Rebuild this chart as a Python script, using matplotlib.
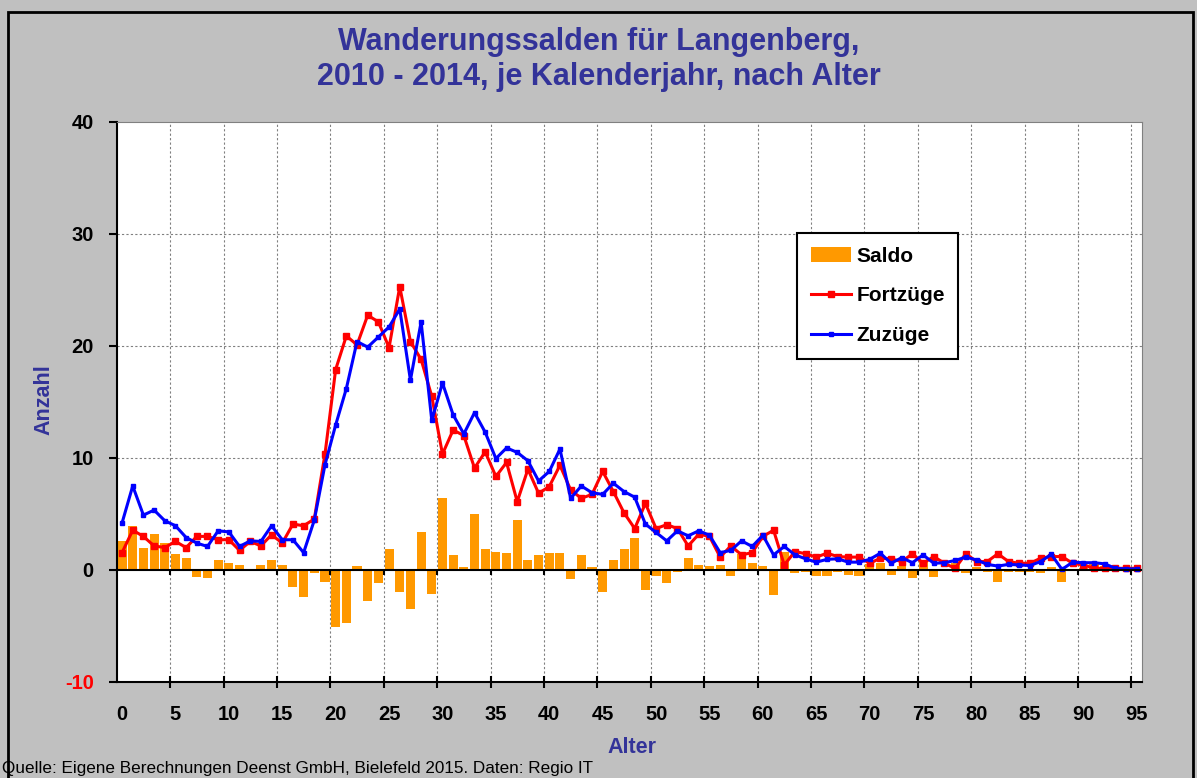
import numpy as np
import matplotlib.pyplot as plt
from matplotlib.patches import Rectangle

plt.rcParams['font.family'] = ['Liberation Sans', 'DejaVu Sans']

# Altersjahre 0..95
alter = list(range(96))

saldo = [2.6, 3.95, 2.0, 3.25, 2.45, 1.45, 1.05, -0.65, -0.75, 0.9,
         0.6, 0.45, 0.05, 0.45, 0.9, 0.45, -1.5, -2.45, -0.25, -1.05,
         -5.05, -4.75, 0.35, -2.8, -1.2, 1.85, -2.0, -3.45, 3.4, -2.15,
         6.4, 1.35, 0.3, 5.0, 1.85, 1.6, 1.5, 4.45, 0.9, 1.35,
         1.5, 1.5, -0.8, 1.35, 0.3, -2.0, 0.9, 1.85, 2.85, -1.8,
         -0.5, -1.2, -0.2, 1.05, 0.45, 0.35, 0.45, -0.5, 1.45, 0.6,
         0.35, -2.2, 1.65, -0.3, -0.2, -0.5, -0.5, -0.2, -0.45, -0.5,
         0.5, 0.6, -0.45, 0.4, -0.7, 0.7, -0.6, 0.05, 0.6, -0.25,
         0.25, -0.2, -1.1, -0.2, -0.15, -0.2, -0.25, 0.25, -1.1, 0.1,
         0.2, 0.5, 0.4, 0.0, -0.05, -0.05]

fortzuege = [1.55, 3.55, 3.0, 2.15, 2.0, 2.55, 2.0, 3.0, 3.0, 2.7,
             2.7, 1.75, 2.55, 2.15, 3.15, 2.4, 4.1, 3.95, 4.55, 10.35,
             17.9, 20.9, 20.1, 22.75, 22.15, 19.85, 25.3, 20.4, 18.8, 15.5,
             10.35, 12.5, 12.0, 9.1, 10.55, 8.35, 9.6, 6.1, 9.0, 6.85,
             7.45, 9.35, 7.15, 6.4, 6.75, 8.8, 7.0, 5.1, 3.7, 5.95,
             3.7, 4.05, 3.7, 2.15, 3.2, 3.0, 1.15, 2.15, 1.35, 1.55,
             3.0, 3.55, 0.45, 1.65, 1.45, 1.15, 1.5, 1.2, 1.15, 1.15,
             0.6, 1.05, 1.0, 0.75, 1.45, 0.6, 1.2, 0.6, 0.15, 1.45,
             0.75, 0.75, 1.45, 0.75, 0.6, 0.6, 1.05, 1.2, 1.2, 0.6,
             0.45, 0.15, 0.15, 0.15, 0.15, 0.15]

zuzuege = [4.2, 7.5, 4.9, 5.35, 4.4, 3.95, 2.9, 2.4, 2.1, 3.5,
           3.4, 2.1, 2.6, 2.55, 3.95, 2.7, 2.7, 1.55, 4.45, 9.4,
           12.95, 16.2, 20.4, 19.9, 20.8, 21.7, 23.3, 16.95, 22.15, 13.35,
           16.7, 13.85, 12.15, 14.05, 12.3, 9.95, 10.9, 10.5, 9.75, 7.95,
           8.8, 10.8, 6.4, 7.5, 6.9, 6.75, 7.75, 7.0, 6.5, 4.1,
           3.35, 2.6, 3.5, 3.05, 3.5, 3.1, 1.55, 1.75, 2.6, 2.1,
           3.1, 1.35, 2.1, 1.35, 1.0, 0.7, 0.95, 1.0, 0.7, 0.7,
           0.95, 1.5, 0.6, 1.1, 0.65, 1.35, 0.6, 0.65, 0.85, 1.15,
           0.9, 0.5, 0.35, 0.5, 0.45, 0.4, 0.75, 1.4, 0.05, 0.7,
           0.65, 0.65, 0.55, 0.15, 0.1, 0.1]

x_ticks = list(range(0, 96, 5))
y_ticks = [-10, 0, 10, 20, 30, 40]

titel_blau = '#333399'

fig = plt.figure(figsize=(11.97, 7.78), dpi=100)
fig.patch.set_facecolor('#C0C0C0')
fig.patches.append(Rectangle((8 / 1197, -0.02), 1185 / 1197, 1 - 12 / 778 + 0.02,
                             transform=fig.transFigure, fill=False,
                             edgecolor='black', linewidth=2, zorder=0))

ax = fig.add_axes([0.0975, 0.1234, 0.8566, 0.7198])
ax.set_facecolor('white')
ax.set_xlim(-0.5, 95.5)
ax.set_ylim(-10, 40)

# Gitternetz
for gx in np.arange(4.5, 95, 5):
    ax.axvline(gx, color='#808080', lw=0.8, ls=(0, (2, 2)), zorder=0)
for gy in [10, 20, 30]:
    ax.axhline(gy, color='#808080', lw=0.8, ls=(0, (2, 2)), zorder=0)

b = ax.bar(alter, saldo, width=0.85, color='#FF9900', label='Saldo', zorder=2)
lf, = ax.plot(alter, fortzuege, color='#FF0000', lw=2.2, marker='s', ms=4.5,
              label='Fortzüge', zorder=3)
lz, = ax.plot(alter, zuzuege, color='#0000FF', lw=2.2, marker='s', ms=2.2,
              label='Zuzüge', zorder=4)

# Nulllinie mit Teilstrichen
ax.axhline(0, color='black', lw=1.5, zorder=5)
ax.vlines(np.arange(4.5, 95, 5), -0.45, 0, color='black', lw=1.5, zorder=5)

for s in ['top', 'right']:
    ax.spines[s].set_color('#808080')
    ax.spines[s].set_linewidth(0.8)
for s in ['left', 'bottom']:
    ax.spines[s].set_color('black')
    ax.spines[s].set_linewidth(1.5)

ax.set_xticks(x_ticks)
ax.set_xticklabels([str(t) for t in x_ticks], fontsize=14.5, fontweight='bold')
ax.set_xticks(np.arange(4.5, 95, 5), minor=True)
ax.tick_params(axis='x', which='major', length=0, pad=16.5)
ax.tick_params(axis='x', which='minor', length=9, width=1.5, direction='inout')

ax.set_yticks(y_ticks)
ax.set_yticklabels([str(t) for t in y_ticks], fontsize=14.5, fontweight='bold')
ax.get_yticklabels()[0].set_color('red')
ax.tick_params(axis='y', length=6, width=1.5, direction='out', pad=10.5)

ax.set_xlabel('Alter', fontsize=15.5, fontweight='bold', color=titel_blau)
ax.xaxis.set_label_coords(0.5026, -0.098)
ax.set_ylabel('Anzahl', fontsize=15.5, fontweight='bold', color=titel_blau)
ax.yaxis.set_label_coords(-0.061, 0.5036)

leg = ax.legend([b, lf, lz], ['Saldo', 'Fortzüge', 'Zuzüge'],
                loc='upper left', bbox_to_anchor=(0.6635, 0.8018),
                fancybox=False, framealpha=1, edgecolor='black',
                prop={'weight': 'bold', 'size': 15}, handlelength=1.95,
                labelspacing=1.0, borderpad=0.65, handletextpad=0.25,
                borderaxespad=0)
leg.get_frame().set_linewidth(1.5)

fig.text(0.5, 1 - 42 / 778, 'Wanderungssalden für Langenberg,', ha='center',
         va='center', fontsize=22, fontweight='bold', color=titel_blau)
fig.text(0.5, 1 - 77 / 778, '2010 - 2014, je Kalenderjahr, nach Alter',
         ha='center', va='center', fontsize=22, fontweight='bold', color=titel_blau)

fig.text(0.002, 1 - 768 / 778,
         'Quelle: Eigene Berechnungen Deenst GmbH, Bielefeld 2015. Daten: Regio IT',
         ha='left', va='center', fontsize=12.3)

fig.savefig('out.png', dpi=100, facecolor=fig.get_facecolor())
